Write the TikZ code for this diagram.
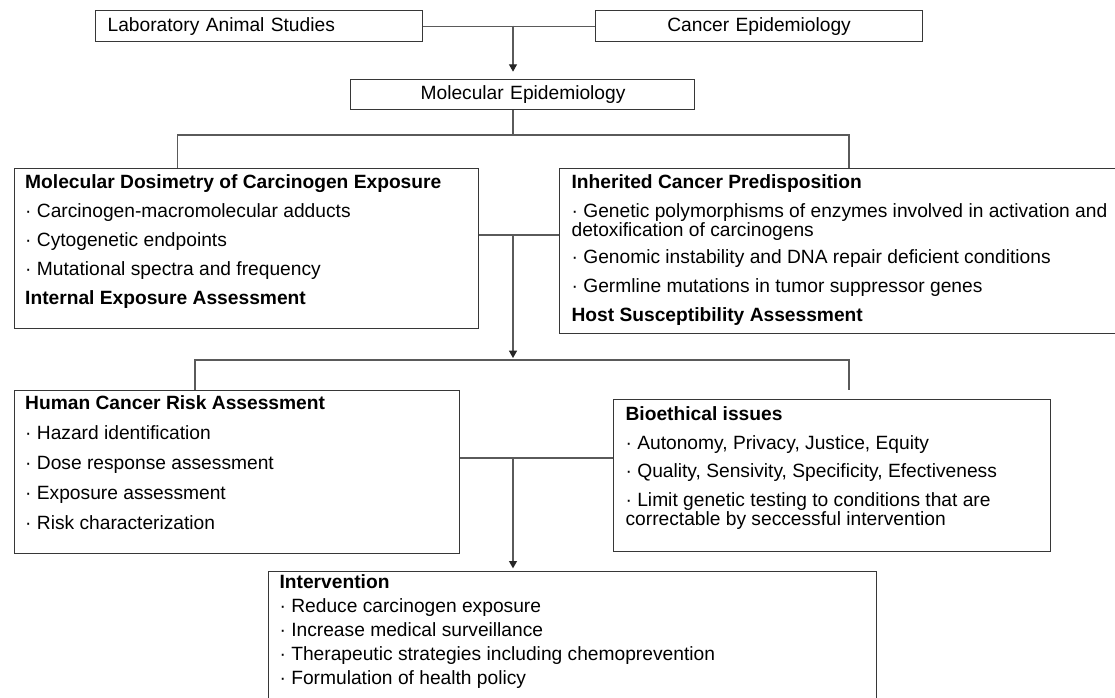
\documentclass[tikz,border=0pt]{standalone}
\usepackage{fontspec}
\setmainfont{Liberation Sans}
\usetikzlibrary{arrows.meta}
\definecolor{boxc}{RGB}{55,55,55}
\definecolor{linec}{RGB}{90,90,90}
\newcommand\bxc[4]{\parbox[c][#2][t]{#1}{\vspace*{#3}\raggedright\lineskiplimit=-8pt #4}}
\begin{document}
\begin{tikzpicture}[x=0.75pt,y=-0.75pt,
  every node/.style={font=\fontsize{14.4}{13.8}\selectfont},
  box/.style={draw=boxc, line width=0.9pt, anchor=north west, inner ysep=0pt, fill=white},
  conn/.style={draw=linec, line width=0.8pt},
  arr/.style={conn, -{Triangle[width=6pt,length=5.5pt,color=black!85]}}]
\useasboundingbox (0,0) rectangle (1115,697);
\fill[white] (0,0) rectangle (1115,697);

% top row
\node[box, inner xsep=9pt, minimum height=23.25pt, text width=227.25pt, align=left] (lab) at (95,10) {Laboratory Animal Studies};
\node[box, inner xsep=9pt, minimum height=23.25pt, text width=227.25pt, align=center] (cancer) at (595,10) {Cancer Epidemiology};
\node[box, inner xsep=0pt, minimum height=22.5pt, text width=258pt, align=left] (me) at (350,79) {\hspace*{52.5pt}Molecular Epidemiology};

% second row
\node[box, inner xsep=8.25pt] (md) at (13.6,167.5) {\bxc{331.5pt}{120pt}{4.9pt}{%
\textbf{Molecular Dosimetry of Carcinogen Exposure}\\[7.95pt]
· Carcinogen-macromolecular adducts\\[7.95pt]
· Cytogenetic endpoints\\[7.95pt]
· Mutational spectra and frequency\\[7.95pt]
\textbf{Internal Exposure Assessment}}};

\node[box, inner xsep=9pt] (icp) at (559,167.5) {\bxc{417pt}{123.75pt}{4.9pt}{%
\textbf{Inherited Cancer Predisposition}\\[7.95pt]
· Genetic polymorphisms of enzymes involved in activation and\\[0.6pt]
detoxification of carcinogens\\[6.6pt]
· Genomic instability and DNA repair deficient conditions\\[7.95pt]
· Germline mutations in tumor suppressor genes\\[7.95pt]
\textbf{Host Susceptibility Assessment}}};

% third row
\node[box, inner xsep=8.25pt] (hcra) at (13.6,390) {\bxc{317.5pt}{122.25pt}{3.75pt}{%
\textbf{Human Cancer Risk Assessment}\\[8.7pt]
· Hazard identification\\[8.7pt]
· Dose response assessment\\[8.7pt]
· Exposure assessment\\[8.7pt]
· Risk characterization}};

\node[box, inner xsep=9pt] (bio) at (613,398.5) {\bxc{309.75pt}{114.4pt}{5.6pt}{%
\textbf{Bioethical issues}\\[7.6pt]
· Autonomy, Privacy, Justice, Equity\\[7.6pt]
· Quality, Sensivity, Specificity, Efectiveness\\[7.6pt]
· Limit genetic testing to conditions that are\\[0.6pt]
correctable by seccessful intervention}};

% bottom
\node[box, inner xsep=8.25pt] (int) at (268,571) {\bxc{439.5pt}{101.25pt}{2.5pt}{%
\textbf{Intervention}\\[4.2pt]
· Reduce carcinogen exposure\\[4.2pt]
· Increase medical surveillance\\[4.2pt]
· Therapeutic strategies including chemoprevention\\[4.2pt]
· Formulation of health policy}};

% junction coordinates
\coordinate (j1) at (513,25.5);
\coordinate (s1) at (513,135);
\coordinate (s1L) at (177.5,135);
\coordinate (s1R) at (849,135);
\coordinate (j2) at (513,235);
\coordinate (s2) at (513,360);
\coordinate (s2L) at (195,360);
\coordinate (s2R) at (849,360);
\coordinate (s2Rend) at (849,390);
\coordinate (j3) at (513,458);

% connectors
\draw[conn] (lab.east) -- (cancer.west);
\draw[arr, shorten >=5.5pt] (j1) -- (j1 |- me.north);
\draw[conn] (s1 |- me.south) -- (s1);
\draw[conn] (md.north -| s1L) -- (s1L) -- (s1R) -- (s1R |- icp.north);
\draw[conn] (j2 -| md.east) -- (j2 -| icp.west);
\draw[arr, shorten >=1.5pt] (j2) -- (s2);
\draw[conn] (hcra.north -| s2L) -- (s2L) -- (s2R) -- (s2Rend);
\draw[conn] (j3 -| hcra.east) -- (j3 -| bio.west);
\draw[arr, shorten >=2pt] (j3) -- (j3 |- int.north);
\end{tikzpicture}
\end{document}
